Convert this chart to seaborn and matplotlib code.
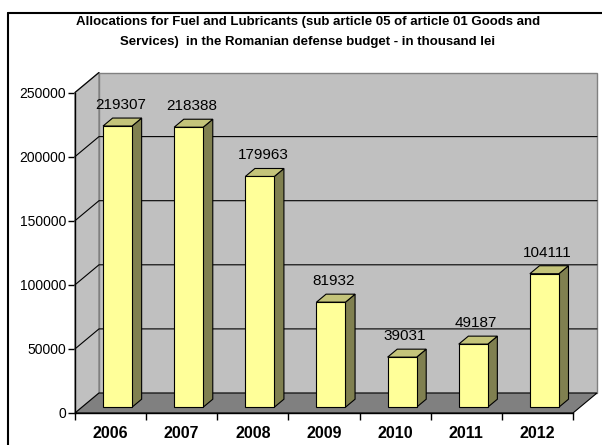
import matplotlib
matplotlib.use("Agg")
import numpy as np
import matplotlib.pyplot as plt
import seaborn as sns
from matplotlib.patches import Polygon
from matplotlib.lines import Line2D

# ---- data -------------------------------------------------------------
years = ["2006", "2007", "2008", "2009", "2010", "2011", "2012"]
allocations = [219307, 218388, 179963, 81932, 39031, 49187, 104111]
y_ticks = [0, 50000, 100000, 150000, 200000, 250000]
title_lines = [
    "Allocations for Fuel and Lubricants (sub article 05 of article 01 Goods and",
    "Services)  in the Romanian defense budget - in thousand lei",
]

# ---- style ------------------------------------------------------------
sns.set_style("ticks")
plt.rcParams["font.family"] = ["Liberation Sans", "DejaVu Sans"]
plt.rcParams["text.color"] = "black"

FRONT = "#FFFF99"
TOP = "#C4C47A"
SIDE = "#808050"
WALL = "#C0C0C0"
FLOOR = "#808080"

W, H = 602, 445
fig = plt.figure(figsize=(W / 100, H / 100), dpi=100)
fig.patch.set_facecolor("white")

# front plane of the 3D box (pixels from top-left)
px0, px1 = 75, 573
py_bot, py_top = 413, 92.5
ax = fig.add_axes([px0 / W, 1 - py_bot / H, (px1 - px0) / W, (py_bot - py_top) / H])

ncat = len(years)
ymax = y_ticks[-1]
px_per_cat = (px1 - px0) / ncat
# depth of the box: 24 px to the right, 20 px up
DX = 24 / px_per_cat
DY = 20 / (py_bot - py_top) * ymax
# bars sit between these depth fractions
f0, f1 = 0.29, 0.69

sns.barplot(x=years, y=allocations, color=FRONT, saturation=1, width=29 / px_per_cat,
            edgecolor="black", linewidth=0.8, ax=ax, zorder=3)
bars = list(ax.patches)

ax.set_xlim(-0.5, ncat - 0.5)
ax.set_ylim(0, ymax)
ax.set_facecolor("none")

xl, xr = -0.5, ncat - 0.5
# back wall and left wall
ax.add_patch(Polygon([(xl + DX, DY), (xr + DX, DY), (xr + DX, ymax + DY), (xl + DX, ymax + DY)],
                     closed=True, fc=WALL, ec="#808080", lw=1, clip_on=False, zorder=0.5))
ax.add_patch(Polygon([(xl, 0), (xl + DX, DY), (xl + DX, ymax + DY), (xl, ymax)],
                     closed=True, fc=WALL, ec="#808080", lw=1, clip_on=False, zorder=0.6))
# gridlines running across the left wall and the back wall
for v in y_ticks[1:]:
    xs = [xl, xl + DX] + ([xr + DX] if v < ymax else [])
    ys = [v, v + DY] + ([v + DY] if v < ymax else [])
    ax.add_line(Line2D(xs, ys, color="black", lw=0.8, clip_on=False, zorder=0.8))
# floor
ax.add_patch(Polygon([(xl, 0), (xr, 0), (xr + DX, DY), (xl + DX, DY)],
                     closed=True, fc=FLOOR, ec="black", lw=0.8, clip_on=False, zorder=1))

dd = f1 - f0
for p, v in zip(bars, allocations):
    x = p.get_x() + f0 * DX
    w = p.get_width()
    y = f0 * DY
    h = p.get_height()
    p.set_x(x)
    p.set_y(y)
    p.set_clip_on(False)
    ax.add_patch(Polygon([(x + w, y), (x + w + dd * DX, y + dd * DY),
                          (x + w + dd * DX, y + h + dd * DY), (x + w, y + h)],
                         closed=True, fc=SIDE, ec="black", lw=0.8, clip_on=False, zorder=2.9))
    ax.add_patch(Polygon([(x, y + h), (x + w, y + h), (x + w + dd * DX, y + h + dd * DY),
                          (x + dd * DX, y + h + dd * DY)],
                         closed=True, fc=TOP, ec="black", lw=0.8, clip_on=False, zorder=2.9))
    ax.annotate(f"{v}", xy=(x + w / 2 + 3 / px_per_cat, y + h), xytext=(0, 21),
                textcoords="offset pixels", ha="center", va="center",
                fontsize=11, color="black", zorder=5, annotation_clip=False)

# axes, ticks and labels on the front plane
for s in ["top", "right"]:
    ax.spines[s].set_visible(False)
for s in ["left", "bottom"]:
    ax.spines[s].set_color("black")
    ax.spines[s].set_linewidth(1)
    ax.spines[s].set_zorder(4)

ax.set_yticks(y_ticks)
ax.set_yticklabels([str(t) for t in y_ticks])
ax.tick_params(axis="y", direction="out", length=5, width=1, color="black",
               labelsize=10, pad=1.5, labelcolor="black", left=True)

ax.set_xticks(np.arange(ncat + 1) - 0.5)
ax.set_xticklabels([""] * (ncat + 1))
ax.set_xticks(np.arange(ncat), minor=True)
ax.set_xticklabels(years, minor=True, fontweight="bold", fontsize=11.5)
ax.tick_params(axis="x", which="major", direction="out", length=5, width=1,
               color="black", bottom=True)
ax.tick_params(axis="x", which="minor", length=0, pad=9, labelcolor="black")
ax.set_xlabel("")
ax.set_ylabel("")

# title
fig.text(308 / W, 1 - 22 / H, title_lines[0], ha="center", va="center",
         fontsize=9.5, fontweight="bold", color="black")
fig.text(308 / W, 1 - 42 / H, title_lines[1], ha="center", va="center",
         fontsize=9.5, fontweight="bold", color="black")

# chart frame
fig.add_artist(Line2D([8 / W, 8 / W], [0, 1 - 13 / H], transform=fig.transFigure,
                      color="black", lw=1.5))
fig.add_artist(Line2D([8 / W, 1], [1 - 13 / H, 1 - 13 / H], transform=fig.transFigure,
                      color="black", lw=1.5))

fig.savefig("out.png", dpi=100)
